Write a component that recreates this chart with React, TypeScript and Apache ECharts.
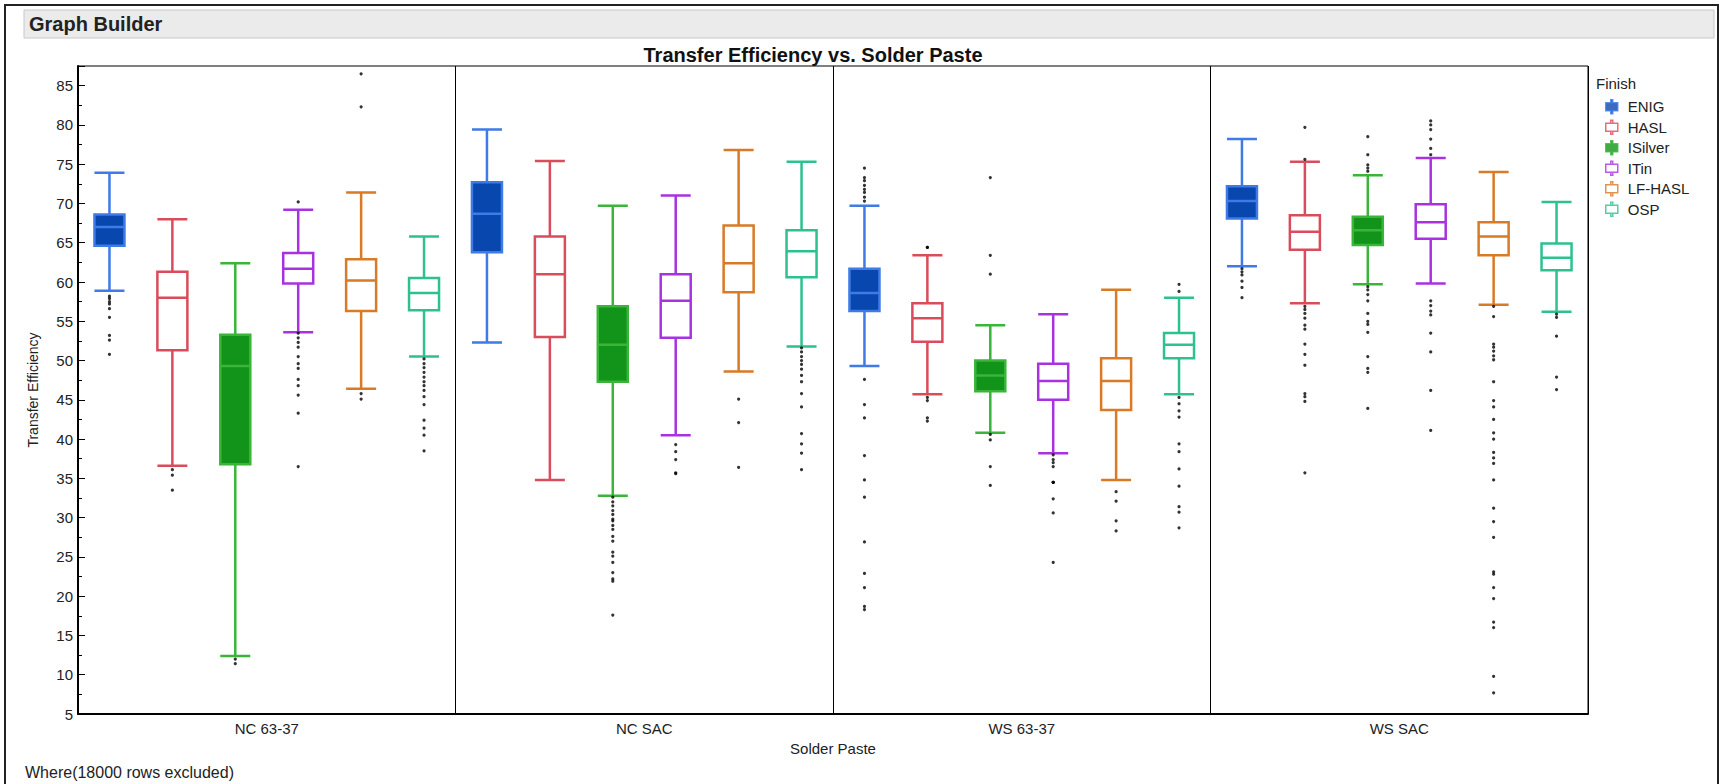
import React, { useEffect, useRef } from 'react';
import * as echarts from 'echarts';

const pastes = ['NC 63-37', 'NC SAC', 'WS 63-37', 'WS SAC'];
const finishes = ['ENIG', 'HASL', 'ISilver', 'ITin', 'LF-HASL', 'OSP'];

// [low whisker, Q1, median, Q3, high whisker] per paste
const enigBoxes = [
  [58.9, 64.6, 67.0, 68.6, 73.9],
  [52.3, 63.8, 68.7, 72.7, 79.4],
  [49.3, 56.3, 58.6, 61.7, 69.7],
  [62.0, 68.1, 70.3, 72.2, 78.2],
];
const haslBoxes = [
  [36.6, 51.3, 58.0, 61.3, 68.0],
  [34.8, 53.0, 61.0, 65.8, 75.4],
  [45.7, 52.4, 55.4, 57.3, 63.4],
  [57.3, 64.1, 66.4, 68.5, 75.3],
];
const isilverBoxes = [
  [12.4, 36.8, 49.3, 53.3, 62.4],
  [32.8, 47.3, 52.0, 56.9, 69.7],
  [40.8, 46.1, 48.1, 50.0, 54.5],
  [59.7, 64.7, 66.6, 68.3, 73.6],
];
const itinBoxes = [
  [53.6, 59.8, 61.7, 63.7, 69.2],
  [40.5, 52.9, 57.6, 61.0, 71.0],
  [38.2, 45.0, 47.4, 49.6, 55.9],
  [59.8, 65.5, 67.6, 69.9, 75.8],
];
const lfhaslBoxes = [
  [46.4, 56.3, 60.2, 62.9, 71.4],
  [48.6, 58.7, 62.4, 67.2, 76.8],
  [34.8, 43.7, 47.4, 50.3, 59.0],
  [57.1, 63.4, 65.8, 67.6, 74.0],
];
const ospBoxes = [
  [50.5, 56.4, 58.6, 60.5, 65.8],
  [51.8, 60.6, 63.9, 66.6, 75.3],
  [45.7, 50.3, 52.0, 53.5, 58.0],
  [56.2, 61.5, 63.1, 64.9, 70.2],
];

// outliers per paste
const enigOutliers = [
  [58.2, 57.9, 57.5, 57.2, 56.6, 55.5, 53.2, 52.6, 50.8],
  [],
  [74.5, 73.3, 72.9, 72.3, 71.8, 71.4, 70.8, 70.3, 47.6, 44.4, 42.7, 37.9, 34.8, 32.6, 26.9, 22.9, 21.1, 18.7, 18.3],
  [61.7, 61.3, 60.9, 60.1, 59.3, 58.0],
];
const haslOutliers = [
  [36.1, 35.4, 33.5],
  [],
  [64.4, 64.4, 45.3, 44.9, 42.7, 42.3],
  [79.7, 75.6, 56.9, 56.5, 56.0, 55.4, 54.5, 54.0, 52.1, 50.8, 49.4, 45.8, 45.4, 44.8, 35.7],
];
const isilverOutliers = [
  [12.0, 11.4],
  [32.6, 32.0, 31.5, 30.9, 30.4, 29.8, 29.6, 29.0, 28.5, 27.6, 27.0, 25.6, 25.1, 24.3, 23.0, 22.2, 21.9, 17.6],
  [73.3, 63.4, 61.0, 40.6, 39.9, 36.5, 34.1],
  [78.5, 76.2, 74.9, 74.5, 74.1, 59.4, 59.0, 58.4, 57.6, 56.0, 55.0, 54.6, 53.6, 50.5, 49.0, 48.5, 43.9],
];
const itinOutliers = [
  [70.2, 53.5, 52.9, 52.3, 51.7, 50.5, 49.6, 49.0, 47.6, 46.8, 45.6, 43.3, 36.5],
  [39.3, 38.4, 37.4, 35.7, 35.6],
  [38.0, 37.4, 37.0, 36.5, 34.5, 34.5, 34.5, 32.4, 30.6, 24.3],
  [80.5, 80.0, 79.4, 78.2, 77.0, 76.2, 57.6, 57.0, 56.3, 55.8, 53.5, 51.1, 46.2, 41.1],
];
const lfhaslOutliers = [
  [86.5, 82.3, 45.8, 45.1],
  [45.1, 42.1, 36.4],
  [33.3, 32.1, 29.6, 28.3],
  [56.9, 55.6, 52.1, 51.7, 51.2, 50.6, 50.1, 47.3, 44.9, 44.1, 42.5, 40.8, 40.0, 38.3, 37.6, 36.9, 34.8, 31.2, 29.5, 27.5, 23.1, 22.8, 21.1, 19.7, 16.7, 16.0, 9.8, 7.7],
];
const ospOutliers = [
  [50.2, 49.6, 49.1, 48.5, 47.9, 47.3, 46.8, 46.2, 45.4, 44.4, 42.4, 41.4, 40.5, 38.5],
  [51.6, 51.1, 50.5, 50.0, 49.5, 48.9, 48.1, 47.3, 45.8, 44.1, 40.7, 39.4, 38.2, 36.1],
  [59.7, 58.8, 45.3, 44.5, 43.6, 42.8, 39.4, 38.4, 36.2, 34.0, 31.4, 30.7, 28.7],
  [55.9, 55.5, 53.1, 47.9, 46.3],
];

const allBoxes = [enigBoxes, haslBoxes, isilverBoxes, itinBoxes, lfhaslBoxes, ospBoxes];
const allOutliers = [enigOutliers, haslOutliers, isilverOutliers, itinOutliers, lfhaslOutliers, ospOutliers];

const strokeColors = ['#3f7ae6', '#d94c5c', '#3ab53a', '#a832e0', '#d97a27', '#2dc190'];
const fillColors = ['#0747ae', '#ffffff', '#12941a', '#ffffff', '#ffffff', '#ffffff'];

const FONT = '"Liberation Sans", Arial, Helvetica, sans-serif';

export default function App() {
  const ref = useRef<HTMLDivElement>(null);

  useEffect(() => {
    if (!ref.current) return;
    const chart = echarts.init(ref.current, undefined, { renderer: 'svg' });

    const catNames: string[] = [];
    const boxData: any[] = [];
    pastes.forEach((p, pi) => {
      finishes.forEach((f, fi) => {
        catNames.push(p + ' / ' + f);
        boxData.push({
          value: allBoxes[fi][pi],
          itemStyle: { color: fillColors[fi], borderColor: strokeColors[fi], borderWidth: 2.5 },
        });
      });
    });

    const scatterSeries = finishes.map((f, fi) => ({
      type: 'scatter',
      name: f,
      xAxisIndex: 0,
      yAxisIndex: 0,
      symbol: 'circle',
      symbolSize: 3.2,
      silent: true,
      z: 4,
      itemStyle: { color: '#000' },
      data: allOutliers[fi].flatMap((vals, pi) => vals.map((v) => [pi * finishes.length + fi, v])),
    }));

    const iconPath = 'path://M1,3L13,3L13,11L1,11Z M6,0L8,0L8,3L6,3Z M6,11L8,11L8,14L6,14Z';

    const option: any = {
      animation: false,
      backgroundColor: '#fff',
      textStyle: { fontFamily: FONT },
      title: {
        text: 'Transfer Efficiency vs. Solder Paste',
        left: 808,
        top: 40,
        textAlign: 'center',
        textStyle: { fontFamily: FONT, fontSize: 20, fontWeight: 'bold', color: '#111' },
      },
      legend: {
        orient: 'vertical',
        left: 1600,
        top: 94,
        itemWidth: 14,
        itemHeight: 14,
        itemGap: 5,
        selectedMode: false,
        textStyle: { fontFamily: FONT, fontSize: 15, color: '#222', padding: [0, 0, 0, 4] },
        data: finishes.map((f, fi) => ({
          name: f,
          icon: iconPath,
          itemStyle: { color: fillColors[fi], borderColor: strokeColors[fi], borderWidth: 1.5 },
        })),
      },
      grid: {
        left: 78,
        right: 131,
        top: 66,
        bottom: 70,
        show: true,
        borderColor: '#000',
        borderWidth: 1,
        backgroundColor: 'transparent',
        outerBoundsMode: 'none',
      },
      xAxis: [
        {
          type: 'category',
          data: catNames,
          show: false,
          position: 'bottom',
        },
        {
          type: 'category',
          data: pastes,
          position: 'bottom',
          axisLine: { show: true, lineStyle: { color: '#000', width: 2 } },
          axisTick: { show: false },
          axisLabel: { fontFamily: FONT, fontSize: 15, color: '#222', margin: 7, interval: 0 },
          splitLine: { show: true, interval: 0, lineStyle: { color: '#000', width: 1 } },
          name: 'Solder Paste',
          nameLocation: 'middle',
          nameGap: 27,
          nameTextStyle: { fontFamily: FONT, fontSize: 15, color: '#222' },
        },
      ],
      yAxis: {
        type: 'value',
        min: 5,
        max: 87.5,
        interval: 5,
        axisLine: { show: true, lineStyle: { color: '#000', width: 2 } },
        axisTick: { show: true, inside: true, length: 7, lineStyle: { color: '#000', width: 1 } },
        minorTick: { show: true, splitNumber: 2, length: 4, lineStyle: { color: '#000', width: 1 } },
        axisLabel: { fontFamily: FONT, fontSize: 15, color: '#222', margin: 5, showMaxLabel: false },
        splitLine: { show: false },
        minorSplitLine: { show: false },
        name: 'Transfer Efficiency',
        nameLocation: 'middle',
        nameGap: 38,
        nameRotate: 90,
        nameTextStyle: { fontFamily: FONT, fontSize: 14, color: '#222' },
      },
      series: [
        {
          type: 'boxplot',
          name: 'Transfer Efficiency',
          xAxisIndex: 0,
          yAxisIndex: 0,
          boxWidth: [30, 30],
          silent: true,
          z: 3,
          data: boxData,
        },
        ...scatterSeries,
      ],
      graphic: [
        {
          type: 'rect',
          z: -10,
          silent: true,
          shape: { x: 5, y: 5, width: 1713, height: 800 },
          style: { fill: 'none', stroke: '#222', lineWidth: 2 },
        },
        {
          type: 'rect',
          silent: true,
          shape: { x: 24, y: 10, width: 1690, height: 28 },
          style: { fill: '#ebebeb', stroke: '#c8c8c8', lineWidth: 1 },
        },
        {
          type: 'text',
          silent: true,
          x: 29,
          y: 24,
          style: {
            text: 'Graph Builder',
            fontFamily: FONT,
            fontSize: 20,
            fontWeight: 'bold',
            fill: '#222',
            verticalAlign: 'middle',
          },
        },
        {
          type: 'text',
          silent: true,
          x: 1596,
          y: 83,
          style: { text: 'Finish', fontFamily: FONT, fontSize: 15, fill: '#222', verticalAlign: 'middle' },
        },
        {
          type: 'text',
          silent: true,
          x: 25,
          y: 772,
          style: {
            text: 'Where(18000 rows excluded)',
            fontFamily: FONT,
            fontSize: 16,
            fill: '#222',
            verticalAlign: 'middle',
          },
        },
      ],
    };

    chart.setOption(option);
    return () => chart.dispose();
  }, []);

  return (
    <div
      ref={ref}
      style={{ position: 'fixed', left: 0, top: 0, width: 1719, height: 784, background: '#fff' }}
    />
  );
}
